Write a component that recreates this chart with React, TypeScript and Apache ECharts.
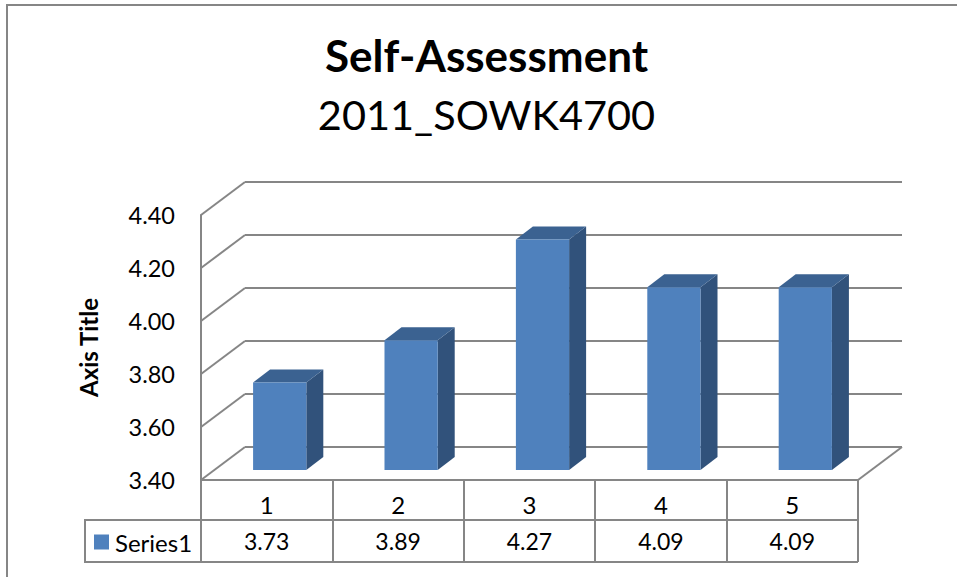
import React, { useEffect, useRef } from "react";
import * as echarts from "echarts";

const categories = ["1", "2", "3", "4", "5"];
const seriesName = "Series1";
const values = [3.73, 3.89, 4.27, 4.09, 4.09];
const yTicks = [3.4, 3.6, 3.8, 4.0, 4.2, 4.4];
const titleText = "Self-Assessment";
const subtitleText = "2011_SOWK4700";
const yAxisTitle = "Axis Title";

const FONT = "Lato, Carlito, 'Noto Sans', sans-serif";
const GRAY = "#868686";
const DEPTH_X = 44;
const DEPTH_Y = 33;

export default function App() {
  const ref = useRef<HTMLDivElement>(null);
  useEffect(() => {
    const chart = echarts.init(ref.current!, null, { renderer: "svg" });
    chart.setOption({
      animation: false,
      backgroundColor: "#ffffff",
      title: {
        left: 481.5,
        top: 28,
        textAlign: "center",
        text: titleText,
        subtext: subtitleText,
        itemGap: 16,
        textStyle: { fontFamily: FONT, fontSize: 44, fontWeight: "bold", color: "#000" },
        subtextStyle: { fontFamily: FONT, fontSize: 41.5, color: "#000" },
      },
      legend: {
        left: 90,
        top: 530,
        icon: "rect",
        itemWidth: 15,
        itemHeight: 15,
        itemGap: 0,
        padding: [0, 0, 0, 4],
        data: [seriesName],
        textStyle: { fontFamily: FONT, fontSize: 24, color: "#000", padding: [0, 0, 0, 1] },
      },
      grid: [
        { left: 201, top: 215, width: 657, height: 265 },
        { left: 245, top: 182, width: 657, height: 265 },
      ],
      xAxis: [
        {
          type: "category",
          gridIndex: 0,
          data: categories,
          axisLine: { lineStyle: { color: GRAY, width: 2 } },
          axisTick: { show: true, length: 82, lineStyle: { color: GRAY, width: 2 } },
          axisLabel: { fontFamily: FONT, fontSize: 24, color: "#000", margin: 12 },
        },
        {
          type: "category",
          gridIndex: 1,
          data: categories,
          axisLine: { show: false },
          axisTick: { show: false },
          axisLabel: { show: false },
        },
      ],
      yAxis: [
        {
          type: "value",
          gridIndex: 0,
          min: 3.4,
          max: 4.4,
          interval: 0.2,
          name: yAxisTitle,
          nameLocation: "middle",
          nameRotate: 90,
          nameGap: 101,
          nameTextStyle: { fontFamily: FONT, fontSize: 24, fontWeight: "bold", color: "#000" },
          axisLine: { show: true, lineStyle: { color: GRAY, width: 2 } },
          axisTick: { show: false },
          splitLine: { show: false },
          axisLabel: {
            fontFamily: FONT,
            fontSize: 23.5,
            color: "#000",
            margin: 26,
            formatter: (v: number) => v.toFixed(2),
          },
        },
        {
          type: "value",
          gridIndex: 1,
          min: 3.4,
          max: 4.4,
          interval: 0.2,
          axisLine: { show: false },
          axisTick: { show: false },
          axisLabel: { show: false },
          splitLine: { show: true, lineStyle: { color: GRAY, width: 2 } },
        },
      ],
      graphic: [
        { type: "line", silent: true, shape: { x1: 7, y1: 5, x2: 7, y2: 577 }, style: { stroke: GRAY, lineWidth: 2 } },
        { type: "line", silent: true, shape: { x1: 6, y1: 5, x2: 957, y2: 5 }, style: { stroke: GRAY, lineWidth: 2 } },
        {
          type: "polyline",
          silent: true,
          shape: { points: [[201, 520], [85, 520], [85, 562], [201, 562]] },
          style: { stroke: GRAY, lineWidth: 2, fill: "none" },
        },
        { type: "line", silent: true, shape: { x1: 201, y1: 520, x2: 858, y2: 520 }, style: { stroke: GRAY, lineWidth: 2 } },
        { type: "line", silent: true, shape: { x1: 201, y1: 562, x2: 858, y2: 562 }, style: { stroke: GRAY, lineWidth: 2 } },
      ],
      series: [
        {
          type: "custom",
          name: "walls",
          xAxisIndex: 0,
          yAxisIndex: 0,
          silent: true,
          z: 1,
          legendHoverLink: false,
          data: yTicks.map((v) => [0, v]),
          encode: { x: 0, y: 1 },
          renderItem: (params: any, api: any) => {
            const left = params.coordSys.x;
            const right = left + params.coordSys.width;
            const y = api.coord([0, api.value(1)])[1];
            const children: any[] = [
              {
                type: "line",
                shape: { x1: left, y1: y, x2: left + DEPTH_X, y2: y - DEPTH_Y },
                style: { stroke: GRAY, lineWidth: 2 },
              },
            ];
            if (params.dataIndex === 0) {
              children.push({
                type: "line",
                shape: { x1: right, y1: y, x2: right + DEPTH_X, y2: y - DEPTH_Y },
                style: { stroke: GRAY, lineWidth: 2 },
              });
            }
            return { type: "group", children };
          },
        },
        {
          type: "custom",
          name: seriesName,
          xAxisIndex: 0,
          yAxisIndex: 0,
          z: 3,
          itemStyle: { color: "#4F81BD" },
          data: values.map((v, i) => [i, v]),
          encode: { x: 0, y: 1 },
          renderItem: (_p: any, api: any) => {
            const c = api.coord([api.value(0), api.value(1)]);
            const base = api.coord([api.value(0), 3.4]);
            const w = api.size([1, 0])[0] * 0.405;
            const x0 = c[0] + 13 - w / 2;
            const x1 = x0 + w;
            const top = c[1] - 10;
            const bot = base[1] - 10;
            const dx = 17;
            const dy = 13;
            return {
              type: "group",
              children: [
                {
                  type: "polygon",
                  shape: { points: [[x1, top], [x1 + dx, top - dy], [x1 + dx, bot - dy], [x1, bot]] },
                  style: { fill: "#31527B" },
                },
                {
                  type: "polygon",
                  shape: { points: [[x0, top], [x0 + dx, top - dy], [x1 + dx, top - dy], [x1, top]] },
                  style: { fill: "#3B6291" },
                },
                { type: "rect", shape: { x: x0, y: top, width: w, height: bot - top }, style: { fill: "#4F81BD" } },
              ],
            };
          },
        },
        {
          type: "custom",
          name: "table",
          xAxisIndex: 0,
          yAxisIndex: 0,
          silent: true,
          z: 4,
          data: values.map((v, i) => [i, v]),
          encode: { x: 0 },
          renderItem: (params: any, api: any) => {
            const x = api.coord([api.value(0), 3.4])[0];
            return {
              type: "text",
              style: {
                text: values[params.dataIndex].toFixed(2),
                x,
                y: 541,
                align: "center",
                verticalAlign: "middle",
                fontFamily: FONT,
                fontSize: 23,
                fill: "#000",
              },
            };
          },
        },
      ],
    });
    return () => chart.dispose();
  }, []);
  return <div ref={ref} style={{ position: "fixed", left: 0, top: 0, width: 957, height: 577 }} />;
}
